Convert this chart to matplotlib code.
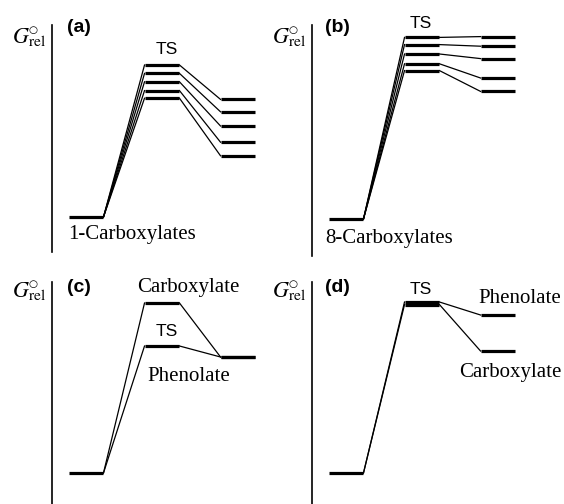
import matplotlib
matplotlib.use("Agg")
import matplotlib.pyplot as plt

# ---- data (relative free energies, arbitrary units; reactant = 0) ----
states = ["Reactant", "TS", "Product"]
a_ts = [38.0, 35.9, 33.8, 31.6, 29.7]
a_prod = [29.4, 26.3, 22.75, 18.7, 15.3]
b_ts = [45.4, 43.6, 41.25, 38.8, 37.1]
b_prod = [45.6, 43.2, 40.1, 35.25, 31.9]
c_ts = [42.5, 31.75]          # Carboxylate, Phenolate
c_prod = [29.0, 29.0]
d_ts = [42.75, 42.1]          # Phenolate, Carboxylate
d_prod = [39.5, 30.5]
react = 0.0

W, H = 564, 504
fig = plt.figure(figsize=(W / 100, H / 100), dpi=100)

SERIF = "Liberation Serif"
SANS = "Liberation Sans"
plt.rcParams["mathtext.fontset"] = "stix"

HW = 0.23          # half width of a level (state units)
STEP_PX = 76.0     # px per state unit
PX_PER_E = 4.0     # px per energy unit


def make_axes(left, top, bottom, right, react_px):
    ax = fig.add_axes([left / W, 1 - bottom / H, (right - left) / W, (bottom - top) / H])
    x0 = -34.0 / STEP_PX
    ax.set_xlim(x0, x0 + (right - left) / STEP_PX)
    ybot = -(bottom - react_px) / PX_PER_E
    ax.set_ylim(ybot, ybot + (bottom - top) / PX_PER_E)
    for s in ["top", "right", "bottom"]:
        ax.spines[s].set_visible(False)
    ax.spines["left"].set_linewidth(1.2)
    ax.set_xticks([])
    ax.set_yticks([])
    ax.patch.set_visible(False)
    return ax


def level(ax, i, e):
    ax.plot([i - HW, i + HW], [e, e], color="black", lw=2.3, solid_capstyle="butt")


def link(ax, i, e1, e2):
    ax.plot([i + HW, i + 1 - HW], [e1, e2], color="black", lw=0.9)


def draw(ax, ts, prod):
    level(ax, 0, react)
    for t, p in zip(ts, prod):
        link(ax, 0, react, t)
        link(ax, 1, t, p)
        level(ax, 1, t)
        level(ax, 2, p)


axa = make_axes(52, 25, 252, 270, 217)
axb = make_axes(312, 25, 256, 564, 219)
axc = make_axes(52, 282, 504, 270, 473)
axd = make_axes(312, 282, 504, 564, 473)

draw(axa, a_ts, a_prod)
draw(axb, b_ts, b_prod)
draw(axc, c_ts, c_prod)
draw(axd, d_ts, d_prod)


def T(x, y, s, **kw):
    fig.text(x / W, 1 - y / H, s, **kw)


glabel = r"$G_{\mathrm{rel}}$"
for gx, gy in [(12, 43), (272, 43), (12, 297), (272, 297)]:
    T(gx, gy, glabel, ha="left", va="baseline", fontsize=16)
    T(gx + 21, gy - 13.5, "\u25cb", ha="center", va="center", fontsize=7.5,
      family="DejaVu Sans")

for lx, ly, lab in [(67, 27, "(a)"), (325, 27, "(b)"), (67, 287, "(c)"), (325, 287, "(d)")]:
    T(lx, ly, lab, ha="left", va="center", fontsize=14, fontweight="bold", family=SANS)

for tx, ty in [(167, 49.5), (421, 24), (167, 331), (421, 289)]:
    T(tx, ty, "TS", ha="center", va="center", fontsize=12.5, family=SANS)

T(68, 239, "1-Carboxylates", ha="left", va="baseline", fontsize=15, family=SERIF)
T(325, 243, "8-Carboxylates", ha="left", va="baseline", fontsize=15, family=SERIF)
T(137, 292, "Carboxylate", ha="left", va="baseline", fontsize=15, family=SERIF)
T(147, 381, "Phenolate", ha="left", va="baseline", fontsize=15, family=SERIF)
T(478, 303, "Phenolate", ha="left", va="baseline", fontsize=15, family=SERIF)
T(459, 377, "Carboxylate", ha="left", va="baseline", fontsize=15, family=SERIF)

fig.savefig("out.png", dpi=100)
